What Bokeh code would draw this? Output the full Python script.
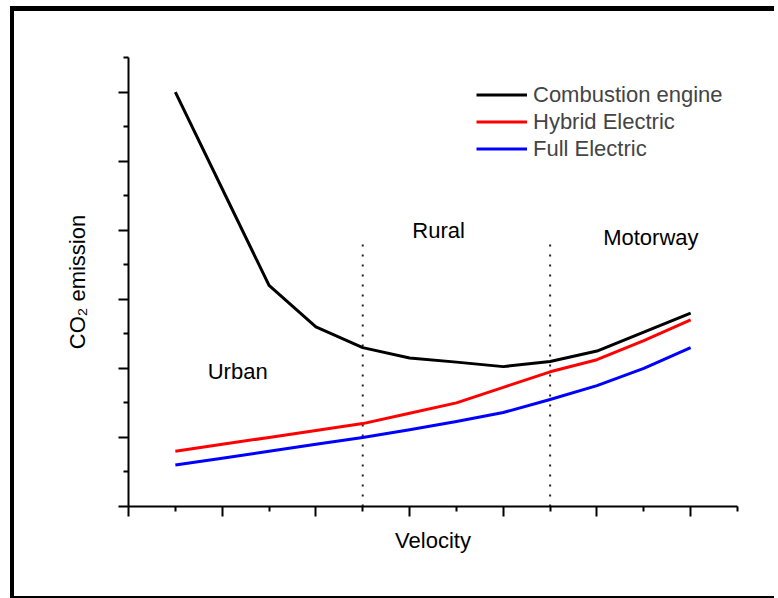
from bokeh.plotting import figure
from bokeh.models import Range1d, FixedTicker, Legend, LegendItem, ColumnDataSource, CustomJSTickFormatter
from bokeh.embed import file_html
from bokeh.resources import INLINE

# ---- data (velocity in tick units, emission in tick units) ----
velocity = [1, 2, 3, 4, 5, 6, 7, 8, 9, 10, 11, 12]
combustion = [12.0, 9.2, 6.4, 5.2, 4.6, 4.3, 4.18, 4.05, 4.2, 4.5, 5.05, 5.6]
hybrid = [1.6, 1.8, 2.0, 2.2, 2.4, 2.7, 3.0, 3.45, 3.9, 4.25, 4.8, 5.4]
full_electric = [1.2, 1.4, 1.6, 1.8, 2.0, 2.22, 2.46, 2.72, 3.1, 3.5, 4.0, 4.6]
series_names = ["Combustion engine", "Hybrid Electric", "Full Electric"]
series_colors = ["#000000", "#ff0000", "#0000ff"]

boundaries = [5, 9]          # region boundaries (velocity)
boundary_top = 7.8           # height of dotted separators
regions = ["Urban", "Rural", "Motorway"]
region_x = [2.33, 6.62, 11.15]
region_y = [3.9, 8.0, 7.8]

x_major = [0, 2, 4, 6, 8, 10, 12]
x_minor = [1, 3, 5, 7, 9, 11, 13]
y_major = [0, 2, 4, 6, 8, 10, 12]
y_minor = [1, 3, 5, 7, 9, 11, 13]

FONT = "Liberation Sans"

p = figure(width=764, height=592, output_backend="svg", toolbar_location=None,
           x_range=Range1d(0, 13), y_range=Range1d(0, 13),
           min_border_left=114, min_border_right=41, min_border_top=46,
           min_border_bottom=97)
p.styles = {"margin-left": "10px", "margin-top": "6px",
            "border-left": "4px solid black", "border-top": "5px solid black",
            "border-bottom": "2px solid black"}
p.outline_line_color = None
p.grid.grid_line_color = None
p.background_fill_color = "white"
p.border_fill_color = "white"

for ax, maj, mnr in ((p.xaxis[0], x_major, x_minor), (p.yaxis[0], y_major, y_minor)):
    ax.ticker = FixedTicker(ticks=maj, minor_ticks=mnr)
    ax.formatter = CustomJSTickFormatter(code="return ''")
    ax.axis_line_width = 2
    ax.axis_line_color = "black"
    ax.major_tick_line_width = 2
    ax.minor_tick_line_width = 2
    ax.major_tick_out = 10
    ax.major_tick_in = 0
    ax.minor_tick_out = 5
    ax.minor_tick_in = 0
    ax.major_label_standoff = 0
    ax.axis_label_text_font = FONT
    ax.axis_label_text_font_size = "22px"
    ax.axis_label_text_font_style = "normal"
    ax.axis_label_text_color = "black"

p.xaxis.axis_label = "Velocity"
p.yaxis.axis_label = "CO\u2082 emission"
p.xaxis.axis_label_standoff = 11
p.yaxis.axis_label_standoff = 29

# dotted region separators
p.segment(x0=boundaries, y0=[0] * len(boundaries), x1=boundaries,
          y1=[boundary_top] * len(boundaries),
          line_color="#222222", line_width=2, line_dash="2 8")

renderers = []
for ys, name, col in zip([combustion, hybrid, full_electric], series_names, series_colors):
    r = p.line(velocity, ys, line_color=col, line_width=3, line_join="round")
    renderers.append((name, r))

src = ColumnDataSource(dict(x=region_x, y=region_y, t=regions))
p.text(x="x", y="y", text="t", source=src, text_align="center",
       text_baseline="middle", text_font={"value": FONT},
       text_font_size="22px", text_color="black")

legend = Legend(items=[LegendItem(label=n, renderers=[r]) for n, r in renderers],
                location=(348, 344), label_text_font=FONT,
                label_text_font_size="22px", label_height=27, glyph_height=27,
                glyph_width=51, label_standoff=6, spacing=0, padding=0, margin=0,
                border_line_color=None, background_fill_alpha=0)
p.add_layout(legend)

open("out.html", "w").write(file_html(p, INLINE))
